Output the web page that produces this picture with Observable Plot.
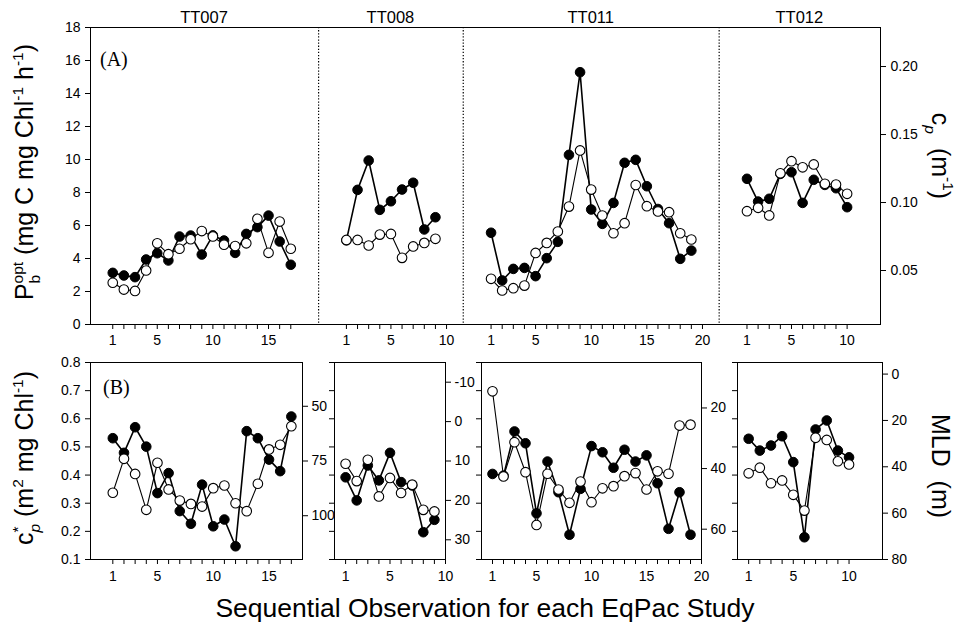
<!DOCTYPE html>
<html><head><meta charset="utf-8">
<script src="https://cdn.jsdelivr.net/npm/d3@7"></script>
<script src="https://cdn.jsdelivr.net/npm/@observablehq/plot@0.6"></script>
<style>
body{margin:0;background:#fff;}
#chart{position:relative;width:962px;height:626px;}
#chart svg{position:absolute;left:0;top:0;}
</style></head><body><div id="chart"></div>
<script>
// ---------------- DATA ----------------
const studies = ["TT007","TT008","TT011","TT012"];

// Panel (A): P_b^opt (filled) and c_p (open)
const pbOpt_TT007 = [3.13,2.97,2.87,3.94,4.32,3.88,5.33,5.39,4.24,5.40,5.09,4.34,5.49,5.90,6.60,5.03,3.62];
const cp_TT007    = [0.041,0.036,0.035,0.050,0.070,0.062,0.066,0.073,0.079,0.075,0.069,0.068,0.070,0.088,0.063,0.086,0.066];
const pbOpt_TT008 = [5.10,8.16,9.94,6.95,7.47,8.18,8.59,5.76,6.50];
const cp_TT008    = [0.0725,0.0725,0.0684,0.0764,0.0769,0.0593,0.0677,0.0703,0.0733];
const pbOpt_TT011 = [5.56,2.67,3.37,3.43,2.93,4.02,5.01,10.28,15.29,6.97,6.10,7.37,9.80,9.98,8.38,7.00,6.14,3.98,4.48];
const cp_TT011    = [0.0439,0.0353,0.0370,0.0389,0.0629,0.0703,0.0787,0.0970,0.1383,0.1095,0.0904,0.0774,0.0848,0.1129,0.0973,0.0934,0.0929,0.0774,0.0728];
const pbOpt_TT012 = [8.83,7.45,7.62,9.13,9.23,7.37,8.77,8.46,8.26,7.11];
const cp_TT012    = [0.0936,0.0961,0.0905,0.1215,0.1304,0.1259,0.1280,0.1138,0.1132,0.1064];

// Panel (B): c_p* (filled) and MLD (open)
const cpStar_TT007 = [0.531,0.479,0.570,0.501,0.336,0.407,0.272,0.227,0.366,0.218,0.242,0.147,0.556,0.531,0.455,0.414,0.608];
const mld_TT007    = [89.5,74.0,80.9,97.3,75.8,88.0,93.1,94.6,95.8,87.4,86.2,94.3,97.9,85.4,69.7,67.6,59.1];
const cpStar_TT008 = [0.392,0.310,0.434,0.381,0.479,0.375,0.363,0.197,0.241];
const mld_TT008    = [10.7,15.1,9.7,19.0,14.3,18.1,16.0,22.4,22.8];
const cpStar_TT011 = [0.404,0.398,0.555,0.513,0.264,0.448,0.339,0.188,0.351,0.503,0.481,0.426,0.490,0.448,0.470,0.371,0.209,0.339,0.188];
const mld_TT011    = [14.5,42.6,31.3,41.2,58.6,41.7,46.9,51.3,44.3,51.1,46.5,45.8,42.5,41.5,46.9,40.9,41.7,25.8,25.5];
const cpStar_TT012 = [0.529,0.487,0.505,0.538,0.446,0.179,0.562,0.594,0.487,0.463];
const mld_TT012    = [42.8,40.4,47.1,45.9,52.1,58.9,27.5,28.4,37.6,39.0];

// Tick labels
const pbTicks = [0,2,4,6,8,10,12,14,16,18];
const cpTicks = [0.05,0.10,0.15,0.20];
const cpStarTicks = [0.1,0.2,0.3,0.4,0.5,0.6,0.7,0.8];
const obsLabels_TT007 = [1,5,10,15];
const obsLabels_TT008 = [1,5,10];
const obsLabels_TT011 = [1,5,10,15,20];
const obsLabels_TT012 = [1,5,10];
const obsTickMax_TT007 = 17, obsTickMax_TT008 = 10, obsTickMax_TT011 = 20, obsTickMax_TT012 = 10;
const mldTicks_TT007 = [50,75,100];
const mldTicks_TT008 = [-10,0,10,20,30];
const mldTicks_TT011 = [20,40,60];
const mldTicks_TT012 = [0,20,40,60,80];

// ---------------- LAYOUT ----------------
const W = 962, H = 626;
const FONT = '"Liberation Sans", Arial, Helvetica, sans-serif';
const SERIF = '"Liberation Serif", "Times New Roman", serif';
const TICK_FS = 14;
const pbOptBy = {TT007:pbOpt_TT007, TT008:pbOpt_TT008, TT011:pbOpt_TT011, TT012:pbOpt_TT012};
const cpBy = {TT007:cp_TT007, TT008:cp_TT008, TT011:cp_TT011, TT012:cp_TT012};
const cpStarBy = {TT007:cpStar_TT007, TT008:cpStar_TT008, TT011:cpStar_TT011, TT012:cpStar_TT012};
const mldBy = {TT007:mld_TT007, TT008:mld_TT008, TT011:mld_TT011, TT012:mld_TT012};
const obsLabelsBy = {TT007:obsLabels_TT007, TT008:obsLabels_TT008, TT011:obsLabels_TT011, TT012:obsLabels_TT012};
const obsTickMaxBy = {TT007:obsTickMax_TT007, TT008:obsTickMax_TT008, TT011:obsTickMax_TT011, TT012:obsTickMax_TT012};
const mldTicksBy = {TT007:mldTicks_TT007, TT008:mldTicks_TT008, TT011:mldTicks_TT011, TT012:mldTicks_TT012};

// top panel: local observation span of each study segment
const topSpan = {TT007:[-1,19.5], TT008:[-1.5,11.5], TT011:[-1.5,21.5], TT012:[-1.5,13]};
const offset = {}, segStart = {}, segEnd = {};
let acc = 0;
for (const s of studies) {
  offset[s] = acc - topSpan[s][0];
  segStart[s] = acc;
  acc += topSpan[s][1] - topSpan[s][0];
  segEnd[s] = acc;
}
const totalSpan = acc;
const boundaries = studies.slice(1).map(s => segStart[s]);

// right axis c_p aligned with P_b^opt axis
const cpToPb = d3.scaleLinear().domain([0.0103, 0.2287]).range([0, 18]);

const topRows = studies.flatMap(s => pbOptBy[s].map((v, i) => ({
  study: s, gx: offset[s] + i + 1, pb: v, cpl: cpToPb(cpBy[s][i])
})));
const topTicks = [], topLabelMap = new Map();
for (const s of studies) {
  for (let k = 1; k <= obsTickMaxBy[s]; k++) {
    const g = offset[s] + k;
    topTicks.push(g);
    if (obsLabelsBy[s].includes(k)) topLabelMap.set(g, String(k));
  }
}

const chart = document.getElementById("chart");
const baseStyle = {background: "transparent", overflow: "visible", fontFamily: FONT, fontSize: TICK_FS + "px", color: "black"};

const topPlot = Plot.plot({
  width: W, height: H,
  marginLeft: 90, marginRight: W - 880, marginTop: 27, marginBottom: H - 324,
  x: {domain: [0, totalSpan]},
  y: {domain: [0, 18]},
  style: baseStyle,
  marks: [
    Plot.ruleX(boundaries, {stroke: "black", strokeWidth: 1.2, strokeDasharray: "1.3,1.8"}),
    Plot.frame({stroke: "black", strokeWidth: 1}),
    Plot.axisY(pbTicks, {anchor: "left", tickSize: 5, tickPadding: 5, fontSize: TICK_FS, label: null}),
    Plot.axisY(cpTicks.map(cpToPb), {anchor: "right", tickSize: 5, tickPadding: 5, fontSize: TICK_FS, label: null,
      tickFormat: d => cpToPb.invert(d).toFixed(2)}),
    Plot.axisX(topTicks, {anchor: "bottom", tickSize: 5, tickPadding: 6, fontSize: TICK_FS, label: null,
      tickFormat: d => topLabelMap.get(d) ?? ""}),
    Plot.line(topRows, {x: "gx", y: "pb", z: "study", stroke: "black", strokeWidth: 1.6}),
    Plot.line(topRows, {x: "gx", y: "cpl", z: "study", stroke: "black", strokeWidth: 1.1}),
    Plot.dot(topRows, {x: "gx", y: "pb", r: 4.8, fill: "black", stroke: "black", strokeWidth: 1}),
    Plot.dot(topRows, {x: "gx", y: "cpl", r: 4.8, fill: "white", stroke: "black", strokeWidth: 1.1})
  ]
});
chart.appendChild(topPlot);

// bottom panels
const bottomLayout = {
  TT007: {left: 90,  right: 302, xDomain: [-1, 18], mld: [30, 120], leftLabels: true},
  TT008: {left: 334, right: 445, xDomain: [0, 10],  mld: [-15, 35], leftLabels: false},
  TT011: {left: 481, right: 701, xDomain: [0, 20],  mld: [5, 70],   leftLabels: false},
  TT012: {left: 737, right: 882, xDomain: [0, 13],  mld: [-5, 80],  leftLabels: false}
};
const bTop = 362, bBottom = 559;

for (const s of studies) {
  const L = bottomLayout[s];
  const mldToY = d3.scaleLinear().domain(L.mld).range([0.8, 0.1]);
  const rows = cpStarBy[s].map((v, i) => ({x: i + 1, c: v, m: mldToY(mldBy[s][i])}));
  const xt = d3.range(1, obsTickMaxBy[s] + 1);
  const p = Plot.plot({
    width: W, height: H,
    marginLeft: L.left, marginRight: W - L.right, marginTop: bTop, marginBottom: H - bBottom,
    x: {domain: L.xDomain},
    y: {domain: [0.1, 0.8]},
    style: baseStyle,
    marks: [
      Plot.frame({stroke: "black", strokeWidth: 1}),
      Plot.axisY(cpStarTicks, {anchor: "left", tickSize: 5, tickPadding: 5, fontSize: TICK_FS, label: null,
        tickFormat: L.leftLabels ? (d => d.toFixed(1)) : (() => "")}),
      Plot.axisY(mldTicksBy[s].map(mldToY), {anchor: "right", tickSize: 5, tickPadding: 4, fontSize: TICK_FS, label: null,
        tickFormat: d => String(Math.round(mldToY.invert(d)))}),
      Plot.axisX(xt, {anchor: "bottom", tickSize: 5, tickPadding: 7, fontSize: TICK_FS, label: null,
        tickFormat: d => obsLabelsBy[s].includes(d) ? String(d) : ""}),
      Plot.line(rows, {x: "x", y: "c", stroke: "black", strokeWidth: 1.6}),
      Plot.line(rows, {x: "x", y: "m", stroke: "black", strokeWidth: 1.1}),
      Plot.dot(rows, {x: "x", y: "c", r: 4.8, fill: "black", stroke: "black", strokeWidth: 1}),
      Plot.dot(rows, {x: "x", y: "m", r: 4.8, fill: "white", stroke: "black", strokeWidth: 1.1})
    ]
  });
  chart.appendChild(p);
}

// ---------------- TEXT OVERLAY ----------------
const ov = d3.select("#chart").append("svg").attr("width", W).attr("height", H)
  .style("font-family", FONT).style("overflow", "visible");
const sx = topPlot.scale("x");

for (const s of studies) {
  ov.append("text").attr("x", sx.apply((segStart[s] + segEnd[s]) / 2)).attr("y", 23)
    .attr("text-anchor", "middle").attr("font-size", 16.5).text(s);
}
ov.append("text").attr("x", 100).attr("y", 66).attr("font-family", SERIF).attr("font-size", 20).text("(A)");
ov.append("text").attr("x", 103).attr("y", 394).attr("font-family", SERIF).attr("font-size", 20).text("(B)");

function richLabel(x, y, rot, size, parts) {
  const t = ov.append("text").attr("transform", `translate(${x},${y}) rotate(${rot})`)
    .attr("text-anchor", "middle").attr("font-size", size);
  let cur = 0, pendingDx = 0, stackW = null;
  for (const p of parts) {
    const off = p.sup ? -0.42 * size : p.sub ? 0.28 * size : 0;
    const ts = t.append("tspan").text(p.t).attr("dy", off - cur);
    cur = off;
    if (p.sup || p.sub) ts.attr("font-size", size * 0.62);
    if (p.italic) ts.attr("font-style", "italic");
    if (pendingDx) { ts.attr("dx", pendingDx); pendingDx = 0; }
    const w = ts.node().getComputedTextLength();
    if (p.stack) { stackW = w; pendingDx = -w; }
    else if (stackW !== null) { const d = stackW - w; stackW = null; if (d > 0) pendingDx = d; }
  }
  return t;
}
richLabel(33, 172, -90, 25, [
  {t: "P"}, {t: "opt", sup: true, stack: true}, {t: "b", sub: true},
  {t: " (mg C mg Chl"}, {t: "-1", sup: true}, {t: " h"}, {t: "-1", sup: true}, {t: ")"}
]);
richLabel(33, 458, -90, 25, [
  {t: "c"}, {t: "*", sup: true, stack: true}, {t: "p", sub: true, italic: true},
  {t: " (m"}, {t: "2", sup: true}, {t: " mg Chl"}, {t: "-1", sup: true}, {t: ")"}
]);
richLabel(932, 156, 90, 25, [
  {t: "c"}, {t: "p", sub: true, italic: true}, {t: "\u00a0\u00a0(m"}, {t: "-1", sup: true}, {t: ")"}
]);
richLabel(932, 466, 90, 25, [{t: "MLD\u00a0\u00a0(m)"}]);
ov.append("text").attr("x", 485).attr("y", 617).attr("text-anchor", "middle").attr("font-size", 26.5)
  .text("Sequential Observation for each EqPac Study");
</script></body></html>
